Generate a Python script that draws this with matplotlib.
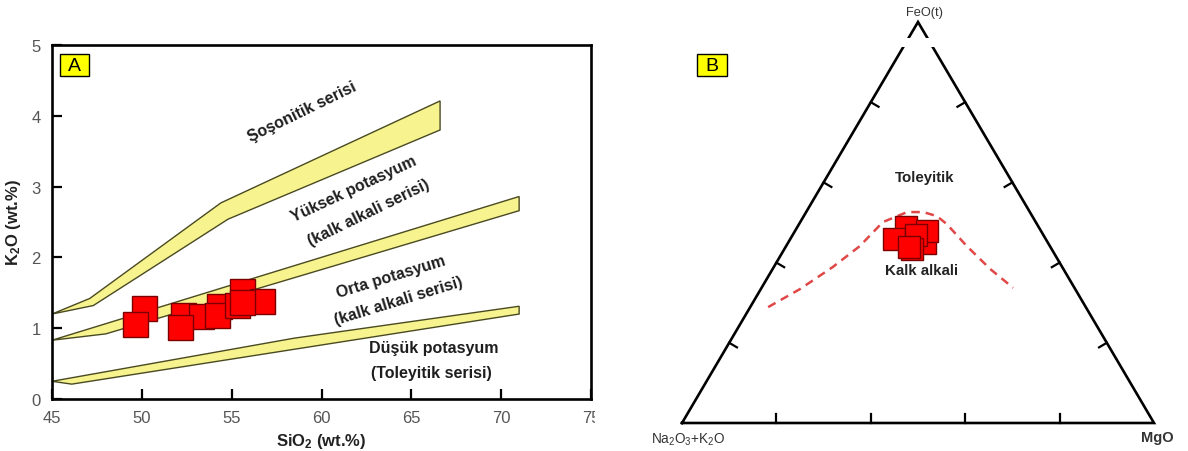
import matplotlib
matplotlib.use("Agg")
import matplotlib.pyplot as plt
from matplotlib.patches import Polygon, Rectangle

plt.rcParams['font.family'] = ['Liberation Sans', 'DejaVu Sans']
plt.rcParams['mathtext.fontset'] = 'custom'
plt.rcParams['mathtext.rm'] = 'Liberation Sans'
plt.rcParams['mathtext.it'] = 'Liberation Sans:italic'
plt.rcParams['mathtext.bf'] = 'Liberation Sans:bold'

# ---------------- Panel A: SiO2 vs K2O ----------------
sio2 = [50.1, 49.6, 52.3, 53.3, 52.1, 54.3, 54.2, 55.6, 55.3, 56.7, 55.6]
k2o = [1.29, 1.06, 1.19, 1.17, 1.02, 1.31, 1.18, 1.53, 1.33, 1.39, 1.37]

# series boundary bands (upper edge, lower edge) as (SiO2, K2O) vertices
shoshonitic_upper = [(45, 1.20), (47.1, 1.42), (54.4, 2.77), (66.6, 4.21)]
shoshonitic_lower = [(45, 1.20), (47.3, 1.32), (54.8, 2.54), (66.6, 3.80)]
highk_upper = [(45, 0.83), (71, 2.86)]
highk_lower = [(45, 0.83), (48, 0.92), (71, 2.66)]
lowk_upper = [(45, 0.25), (58.5, 0.86), (71, 1.31)]
lowk_lower = [(45, 0.25), (46.1, 0.21), (71, 1.20)]
bands = [(shoshonitic_upper, shoshonitic_lower),
         (highk_upper, highk_lower),
         (lowk_upper, lowk_lower)]

xticks_a = [45, 50, 55, 60, 65, 70, 75]
yticks_a = [0, 1, 2, 3, 4, 5]

series_labels = [
    ("Şoşonitik serisi", 58.9, 4.07, 26),
    ("Yüksek potasyum", 61.8, 2.97, 25),
    ("(kalk alkali serisi)", 62.6, 2.64, 26),
    ("Orta potasyum", 63.85, 1.74, 17),
    ("(kalk alkali serisi)", 64.3, 1.40, 17),
    ("Düşük potasyum", 66.25, 0.73, 0),
    ("(Toleyitik serisi)", 66.1, 0.37, 0),
]

# ---------------- Panel B: AFM ternary ----------------
feo_t = [49, 46, 45, 48, 47, 43.5, 44]
alkali = [28, 32, 26, 24, 27, 29.5, 30]
mgo = [23, 22, 29, 28, 26, 27, 26]

curve_feo = [28.9, 33.4, 38.9, 44.1, 50.1, 52.6, 52.6, 51.6, 49.6, 44.1, 38.4, 33.7]
curve_alk = [67.3, 58.3, 48.6, 40.3, 32.4, 26.0, 22.6, 20.2, 19.1, 17.6, 15.5, 13.0]
curve_mgo = [100 - f - a for f, a in zip(curve_feo, curve_alk)]

tern_ticks = [0.2, 0.4, 0.6, 0.8]

W, H = 1188, 452
fig = plt.figure(figsize=(W / 100, H / 100), dpi=100)
fig.patch.set_facecolor('white')


def px_axes(x0, y0, x1, y1):
    return fig.add_axes([x0 / W, 1 - y1 / H, (x1 - x0) / W, (y1 - y0) / H])


# ---------- draw panel A ----------
ax = px_axes(52, 46, 591, 400)
ax.set_xlim(45, 75)
ax.set_ylim(0, 5)
band_fill = '#f7f48f'
band_edge = '#4a4a22'
for upper, lower in bands:
    verts = list(upper) + list(reversed(lower))
    ax.add_patch(Polygon(verts, closed=True, facecolor=band_fill,
                         edgecolor=band_edge, linewidth=1.0, zorder=2))

ax.plot(sio2, k2o, linestyle='none', marker='s', markersize=18,
        markerfacecolor='#ff0000', markeredgecolor='#7a0000',
        markeredgewidth=1.0, zorder=4)

for txt, x, y, rot in series_labels:
    ax.text(x, y, txt, rotation=rot, rotation_mode='anchor',
            ha='center', va='center', fontsize=11.5, fontweight='bold',
            color='#1e1e1e', zorder=5)

ax.set_xticks(xticks_a)
ax.set_yticks(yticks_a)
ax.tick_params(direction='in', length=7.5, width=1.6, colors='black',
               labelcolor='#555555', labelsize=12, pad=8)
for s in ax.spines.values():
    s.set_linewidth(1.9)
    s.set_color('black')
ax.set_xlabel(r'$\mathbf{SiO_2}$ (wt.%)', fontsize=12, fontweight='bold',
              color='#222222', labelpad=4)
ax.set_ylabel(r'$\mathbf{K_2O}$ (wt.%)', fontsize=12, fontweight='bold',
              color='#222222', labelpad=6)

ax.add_patch(Rectangle((0.0148, 0.912), 0.054, 0.062, transform=ax.transAxes,
                       facecolor='#ffff00', edgecolor='black', linewidth=1.0,
                       zorder=6))
ax.text(0.0148 + 0.027, 0.912 + 0.031, 'A', transform=ax.transAxes,
        ha='center', va='center', fontsize=14, color='black', zorder=7)

# ---------- draw panel B ----------
bx = px_axes(682, 23, 1154, 424)
bx.set_xlim(0, 1)
bx.set_ylim(0, 1)
bx.axis('off')


def tern(fe, alk, mg):
    xs, ys = [], []
    for f, a, m in zip(fe, alk, mg):
        t = f + a + m
        xs.append(m / t + 0.5 * f / t)
        ys.append(f / t)
    return xs, ys


tri_x, tri_y = tern([0, 0, 100, 0], [100, 0, 0, 100], [0, 100, 0, 0])
bx.plot(tri_x, tri_y, color='black', linewidth=1.9, clip_on=False,
        solid_joinstyle='miter', zorder=2)

# inward ticks perpendicular to each side (about 9 px long)
tl_x, tl_y = 9 / 472, 9 / 401
for t in tern_ticks:
    bx.plot([t, t], [0, tl_y], color='black', lw=1.6, clip_on=False, zorder=2)
    lx, ly = t / 2, t
    bx.plot([lx, lx + 0.862 * tl_x], [ly, ly - 0.507 * tl_y], color='black',
            lw=1.6, clip_on=False, zorder=2)
    rx, ry = 1 - t / 2, t
    bx.plot([rx, rx - 0.862 * tl_x], [ry, ry - 0.507 * tl_y], color='black',
            lw=1.6, clip_on=False, zorder=2)

# small break in the sides just below the apex
bx.add_patch(Rectangle((0.447, 0.938), 0.091, 0.021, facecolor='white',
                       edgecolor='none', zorder=3))

cx, cy = tern(curve_feo, curve_alk, curve_mgo)
bx.plot(cx, cy, color='#e04848', linewidth=1.8, dashes=(3.4, 2.4),
        zorder=3)

px, py = tern(feo_t, alkali, mgo)
bx.plot(px, py, linestyle='none', marker='s', markersize=16.5,
        markerfacecolor='#ff0000', markeredgecolor='#7a0000',
        markeredgewidth=1.0, zorder=4)

bx.text(0.515, 0.613, 'Toleyitik', ha='center', va='center', fontsize=10.8,
        fontweight='bold', color='#222222')
bx.text(0.508, 0.3815, 'Kalk alkali', ha='center', va='center',
        fontsize=10.8, fontweight='bold', color='#222222', zorder=5)
bx.text(0.513, 1.025, 'FeO(t)', ha='center', va='center', fontsize=9.2,
        color='#333333', clip_on=False)
bx.text(0.013, -0.04, r'Na$_2$O$_3$+K$_2$O', ha='center', va='center',
        fontsize=9.8, color='#333333', clip_on=False)
bx.text(1.008, -0.035, 'MgO', ha='center', va='center', fontsize=10.5,
        fontweight='bold', color='#333333', clip_on=False)

bx.add_patch(Rectangle((0.0318, 0.865), 0.0636, 0.055, transform=bx.transAxes,
                       facecolor='#ffff00', edgecolor='black', linewidth=1.0,
                       clip_on=False, zorder=6))
bx.text(0.0318 + 0.0318, 0.865 + 0.0275, 'B', transform=bx.transAxes,
        ha='center', va='center', fontsize=14, color='black', zorder=7)

# the right-most tick label is cut at the panel edge
fig.patches.append(Rectangle((595 / W, 1 - 432 / H), 40 / W, 26 / H,
                             transform=fig.transFigure, facecolor='white',
                             edgecolor='none', zorder=10))

fig.savefig('out.png', dpi=100, facecolor='white')
